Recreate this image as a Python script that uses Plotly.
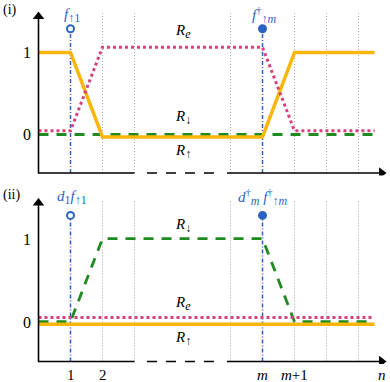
import plotly.graph_objects as go

# step positions along n (m = 7)
x_pts = [0, 1, 2, 7, 8, 10.5]
grid_x = [2, 3, 6, 8, 9, 10]
mark_x = [1, 7]
mark_y = [1.29, 1.29]

# panel (i)
top_r_up = [1.0, 1.0, -0.03, -0.03, 1.0, 1.0]
top_r_e = [0.045, 0.045, 1.065, 1.065, 0.045, 0.045]
top_r_down = [0.0, 0.0, 0.0, 0.0, 0.0, 0.0]

# panel (ii)
bot_r_up = [-0.02, -0.02, -0.02, -0.02, -0.02, -0.02]
bot_r_e = [0.06, 0.06, 0.06, 0.06, 0.06, 0.06]
bot_r_down = [0.01, 0.01, 1.01, 1.01, 0.01, 0.01]

xtick_vals = [1, 2, 7, 8, 10.72]
xtick_text = ["1", "2", "<i>m</i>", "<i>m</i>+1", "<i>n</i>"]

YELLOW = "#f8b60a"
PINK = "#d4427e"
GREEN = "#1f8a1f"
BLUE = "#2b63c4"
GRAY = "#a8a8a8"
SERIF = "Liberation Serif"

fig = go.Figure()


def add_panel(xa, ya, r_up, r_e, r_down):
    # grid lines
    for gx in grid_x:
        fig.add_trace(go.Scatter(x=[gx, gx], y=[-0.47, 1.48], mode="lines",
                                 line=dict(color=GRAY, width=1, dash="1px,2px"),
                                 xaxis=xa, yaxis=ya, showlegend=False))
    # blue markers
    for i, mx in enumerate(mark_x):
        fig.add_trace(go.Scatter(x=[mx, mx], y=[-0.47, mark_y[i]], mode="lines",
                                 line=dict(color=BLUE, width=1.5, dash="4px,2px,1px,2px"),
                                 xaxis=xa, yaxis=ya, showlegend=False))
        fig.add_trace(go.Scatter(x=[mx], y=[mark_y[i]], mode="markers",
                                 marker=dict(size=7, color=BLUE if i == 1 else "white",
                                             line=dict(color=BLUE, width=2)),
                                 xaxis=xa, yaxis=ya, showlegend=False))
    fig.add_trace(go.Scatter(x=x_pts, y=r_down, mode="lines",
                             line=dict(color=GREEN, width=2.8, dash="10px,8px"),
                             xaxis=xa, yaxis=ya, showlegend=False))
    fig.add_trace(go.Scatter(x=x_pts, y=r_up, mode="lines",
                             line=dict(color=YELLOW, width=3.5),
                             xaxis=xa, yaxis=ya, showlegend=False))
    fig.add_trace(go.Scatter(x=x_pts, y=r_e, mode="lines",
                             line=dict(color=PINK, width=3, dash="3px,3px"),
                             xaxis=xa, yaxis=ya, showlegend=False))
    # axes
    fig.add_trace(go.Scatter(x=[0, 0, 3], y=[1.42, -0.47, -0.47], mode="lines",
                             line=dict(color="black", width=1.6),
                             xaxis=xa, yaxis=ya, showlegend=False))
    fig.add_trace(go.Scatter(x=[3.39, 5.55], y=[-0.47, -0.47], mode="lines",
                             line=dict(color="black", width=1.6, dash="10px,9px"),
                             xaxis=xa, yaxis=ya, showlegend=False))
    fig.add_trace(go.Scatter(x=[5.89, 10.7], y=[-0.47, -0.47], mode="lines",
                             line=dict(color="black", width=1.6),
                             xaxis=xa, yaxis=ya, showlegend=False))
    fig.add_trace(go.Scatter(x=[10.72], y=[-0.47], mode="markers",
                             marker=dict(symbol="triangle-right", size=10, color="black"),
                             xaxis=xa, yaxis=ya, showlegend=False))
    fig.add_trace(go.Scatter(x=[0], y=[1.44], mode="markers",
                             marker=dict(symbol="triangle-up", size=10, color="black"),
                             xaxis=xa, yaxis=ya, showlegend=False))


add_panel("x", "y", top_r_up, top_r_e, top_r_down)
add_panel("x2", "y2", bot_r_up, bot_r_e, bot_r_down)

ann = []
for xr, yr in [("x", "y"), ("x2", "y2")]:
    for v in [0, 1]:
        ann.append(dict(x=-0.36, y=v, xref=xr, yref=yr, text=str(v), showarrow=False,
                        font=dict(family=SERIF, size=16, color="black")))


def sub(s):
    return "<sub><span style='font-size:12px'>" + s + "</span></sub>"


# curve labels
lab_font = dict(family=SERIF, size=15, color="black")
for txt, yv, ya in [("<i>R</i>" + sub("<i>e</i>"), 1.25, "y"),
                    ("<i>R</i>" + sub("↓"), 0.21, "y"),
                    ("<i>R</i>" + sub("↑"), -0.21, "y"),
                    ("<i>R</i>" + sub("↓"), 1.17, "y2"),
                    ("<i>R</i>" + sub("<i>e</i>"), 0.235, "y2"),
                    ("<i>R</i>" + sub("↑"), -0.19, "y2")]:
    ann.append(dict(x=4.5, y=yv, xref="x" if ya == "y" else "x2", yref=ya, text=txt,
                    showarrow=False, font=lab_font))

blue_font = dict(family=SERIF, size=15, color=BLUE)
ann.append(dict(x=1.05, y=1.45, xref="x", yref="y", text="<i>f</i>" + sub("↑1"),
                showarrow=False, font=blue_font))
ann.append(dict(x=7.05, y=1.45, xref="x", yref="y", text="<i>f</i><sup>†</sup>" + sub("↑<i>m</i>"),
                showarrow=False, font=blue_font))
ann.append(dict(x=1.05, y=1.5, xref="x2", yref="y2", text="<i>d</i>" + sub("1") + "<i>f</i>" + sub("↑1"),
                showarrow=False, font=blue_font))
ann.append(dict(x=7.0, y=1.5, xref="x2", yref="y2",
                text="<i>d</i><sup>†</sup>" + sub("<i>m</i>") + " <i>f</i><sup>†</sup>" + sub("↑<i>m</i>"),
                showarrow=False, font=blue_font))

for i, tv in enumerate(xtick_vals):
    ann.append(dict(x=tv, y=0.019, xref="x2", yref="paper", text=xtick_text[i], showarrow=False,
                    xanchor="center", yanchor="middle",
                    font=dict(family=SERIF, size=15, color="black")))

ann.append(dict(x=0.002, y=0.974, xref="paper", yref="paper", text="(i)", showarrow=False,
                xanchor="left", yanchor="middle", font=dict(family=SERIF, size=14, color="black")))
ann.append(dict(x=0.002, y=0.4895, xref="paper", yref="paper", text="(ii)", showarrow=False,
                xanchor="left", yanchor="middle", font=dict(family=SERIF, size=14, color="black")))

xr = [-1.203, 10.984]
fig.update_layout(
    width=390, height=382,
    margin=dict(l=0, r=0, t=0, b=0),
    paper_bgcolor="white", plot_bgcolor="white",
    xaxis=dict(domain=[0, 1], range=xr, visible=False, anchor="y"),
    yaxis=dict(domain=[0.5406, 0.9699], range=[-0.5, 1.5], visible=False, anchor="x"),
    xaxis2=dict(domain=[0, 1], range=xr, visible=False, anchor="y2"),
    yaxis2=dict(domain=[0.0471, 0.4817], range=[-0.5, 1.5], visible=False, anchor="x2"),
    annotations=ann,
)

fig.write_html("out.html", config={"displayModeBar": False},
               post_script="document.body.style.margin='0';")
